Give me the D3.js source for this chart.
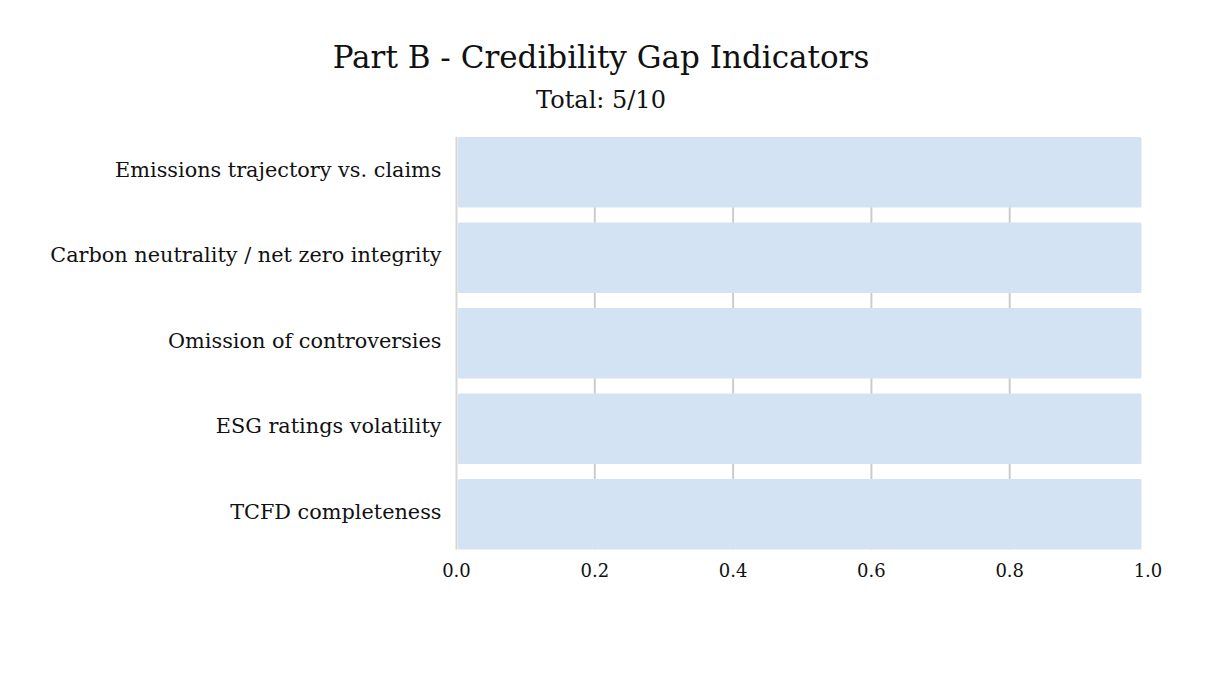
<!DOCTYPE html>
<html>
<head>
<meta charset="utf-8">
<script src="https://cdn.jsdelivr.net/npm/d3@7"></script>
<style>
  html, body { margin: 0; padding: 0; background: #fff; }
  svg text { font-family: "DejaVu Serif", serif; fill: #111; }
</style>
</head>
<body>
<div id="chart"></div>
<script>
(function(){
  const title = "Part B - Credibility Gap Indicators";
  const subtitle = "Total: 5/10";
  const categories = [
    "Emissions trajectory vs. claims",
    "Carbon neutrality / net zero integrity",
    "Omission of controversies",
    "ESG ratings volatility",
    "TCFD completeness"
  ];
  const scores = [1, 1, 1, 1, 1];
  const xTicks = [0, 0.2, 0.4, 0.6, 0.8, 1.0];

  const width = 1206, height = 674;
  const margin = { top: 122, right: 58, bottom: 110, left: 456.5 };

  const svg = d3.select("#chart")
    .append("svg")
    .attr("width", width)
    .attr("height", height);

  const xScale = d3.scaleLinear()
    .domain([0, 1])
    .range([margin.left, width - margin.right]);

  const yScale = d3.scaleBand()
    .domain(categories)
    .range([margin.top, height - margin.bottom + 0.5])
    .padding(0.175);

  const gridTop = yScale(categories[0]);
  const gridBottom = yScale(categories[categories.length - 1]) + yScale.bandwidth();

  // grid lines (none drawn at the far end)
  svg.append("g")
    .selectAll("line")
    .data(xTicks.filter(d => d < 1))
    .join("line")
    .attr("x1", d => xScale(d))
    .attr("x2", d => xScale(d))
    .attr("y1", gridTop)
    .attr("y2", gridBottom)
    .attr("stroke", d => d === 0 ? "#d6d6d6" : "#cccccc")
    .attr("stroke-width", 2);

  // bars stop a few px short of the scale end, like the original
  svg.append("g")
    .selectAll("rect")
    .data(scores)
    .join("rect")
    .attr("x", xScale(0) + 1.5)
    .attr("y", (d, i) => yScale(categories[i]))
    .attr("width", d => xScale(d) - xScale(0) - 8)
    .attr("height", yScale.bandwidth())
    .attr("rx", 1.5)
    .attr("fill", "#d4e3f4");

  // category labels
  svg.append("g")
    .selectAll("text")
    .data(categories)
    .join("text")
    .attr("x", margin.left - 15)
    .attr("y", d => yScale(d) + yScale.bandwidth() / 2)
    .attr("dy", "0.22em")
    .attr("text-anchor", "end")
    .attr("font-size", "20.8px")
    .text(d => d);

  // x tick labels
  svg.append("g")
    .selectAll("text")
    .data(xTicks)
    .join("text")
    .attr("x", d => xScale(d))
    .attr("y", 577)
    .attr("text-anchor", "middle")
    .attr("font-size", "18px")
    .text(d => d3.format(".1f")(d));

  svg.append("text")
    .attr("x", 601)
    .attr("y", 68)
    .attr("text-anchor", "middle")
    .attr("font-size", "31px")
    .text(title);

  svg.append("text")
    .attr("x", 601)
    .attr("y", 108)
    .attr("text-anchor", "middle")
    .attr("font-size", "24px")
    .text(subtitle);
})();
</script>
</body>
</html>
